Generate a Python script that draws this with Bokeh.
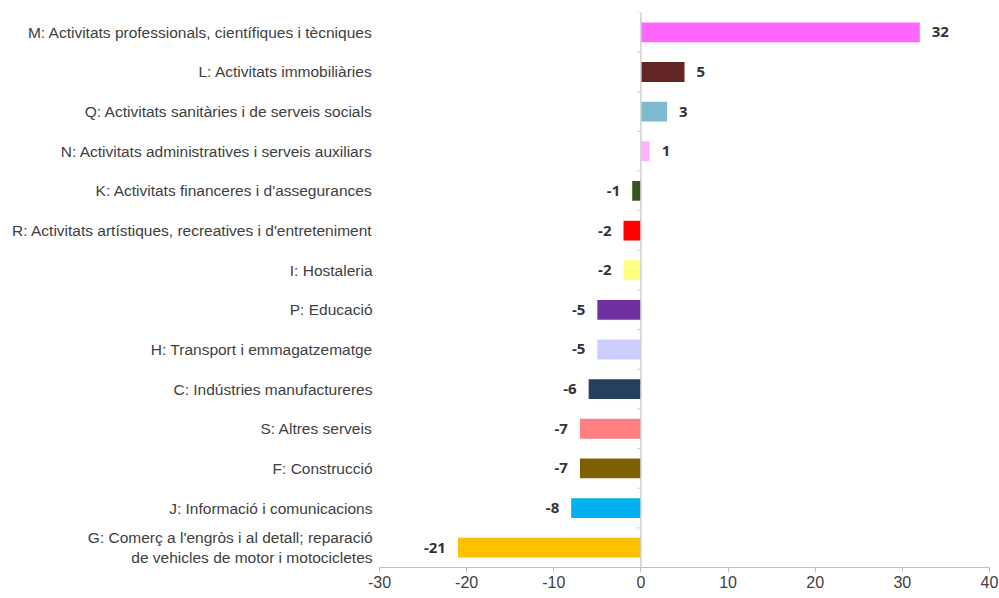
from bokeh.plotting import figure
from bokeh.models import ColumnDataSource, FactorRange, Span, FixedTicker
from bokeh.core.properties import value
from bokeh.embed import file_html
from bokeh.resources import INLINE

categories = [
    "M: Activitats professionals, científiques i tècniques",
    "L: Activitats immobiliàries",
    "Q: Activitats sanitàries i de serveis socials",
    "N: Activitats administratives i serveis auxiliars",
    "K: Activitats financeres i d'assegurances",
    "R: Activitats artístiques, recreatives i d'entreteniment",
    "I: Hostaleria",
    "P: Educació",
    "H: Transport i emmagatzematge",
    "C: Indústries manufactureres",
    "S: Altres serveis",
    "F: Construcció",
    "J: Informació i comunicacions",
    "G: Comerç a l'engròs i al detall; reparació\nde vehicles de motor i motocicletes",
]
values = [32, 5, 3, 1, -1, -2, -2, -5, -5, -6, -7, -7, -8, -21]
colors = [
    "#FF66FF", "#632523", "#7FBBD0", "#FFB3FF", "#3B5323", "#FF0000", "#FFFF80",
    "#7030A0", "#CCCCFF", "#243F60", "#FF8080", "#7F6000", "#00B0F0", "#FFC000",
]
x_ticks = [-30, -20, -10, 0, 10, 20, 30, 40]
x_tick_labels = ["-30", "-20", "-10", "0", "10", "20", "30", "40"]

src = ColumnDataSource(dict(
    cat=categories,
    val=values,
    color=colors,
    label=[str(v) for v in values],
    align=["left" if v > 0 else "right" for v in values],
    xoff=[12 if v > 0 else -12 for v in values],
))

p = figure(
    width=999, height=598,
    y_range=FactorRange(factors=categories[::-1], range_padding=0),
    x_range=(-30, 40),
    output_backend="svg", toolbar_location=None,
    min_border_left=379, min_border_right=10, min_border_top=12, min_border_bottom=31,
)
p.outline_line_color = None
p.grid.visible = False

p.hbar(y="cat", left=0, right="val", height=0.5, fill_color="color", line_color=None, source=src)

p.add_layout(Span(location=0, dimension="height", line_color="#d0d0d0", line_width=1.5))

# small ticks at the category boundaries on the zero line
bounds = [(c, 0.5) for c in categories] + [(categories[-1], -0.5)]
p.segment(x0=[-0.45] * len(bounds), x1=[0] * len(bounds),
          y0=bounds, y1=bounds, line_color="#d0d0d0", line_width=1)

p.text(x="val", y="cat", text="label", source=src,
       text_align="align", x_offset="xoff", text_baseline="middle",
       text_font=value("Open Sans"), text_font_style="bold",
       text_font_size="15px", text_color="#333333")

yax = p.yaxis[0]
yax.axis_line_color = None
yax.major_tick_line_color = None
yax.minor_tick_line_color = None
yax.major_label_text_font = "Liberation Sans"
yax.major_label_text_font_size = "15.5px"
yax.major_label_text_color = "#404040"
yax.major_label_standoff = 1

xax = p.xaxis[0]
xax.ticker = FixedTicker(ticks=x_ticks)
xax.major_label_overrides = dict(zip(x_ticks, x_tick_labels))
xax.axis_line_color = "#c0c0c0"
xax.major_tick_line_color = "#c0c0c0"
xax.major_tick_in = 0
xax.major_tick_out = 5
xax.minor_tick_line_color = None
xax.major_label_text_font = "Liberation Sans"
xax.major_label_text_font_size = "16px"
xax.major_label_text_color = "#404040"
xax.major_label_standoff = 3

open("out.html", "w").write(file_html(p, INLINE))
